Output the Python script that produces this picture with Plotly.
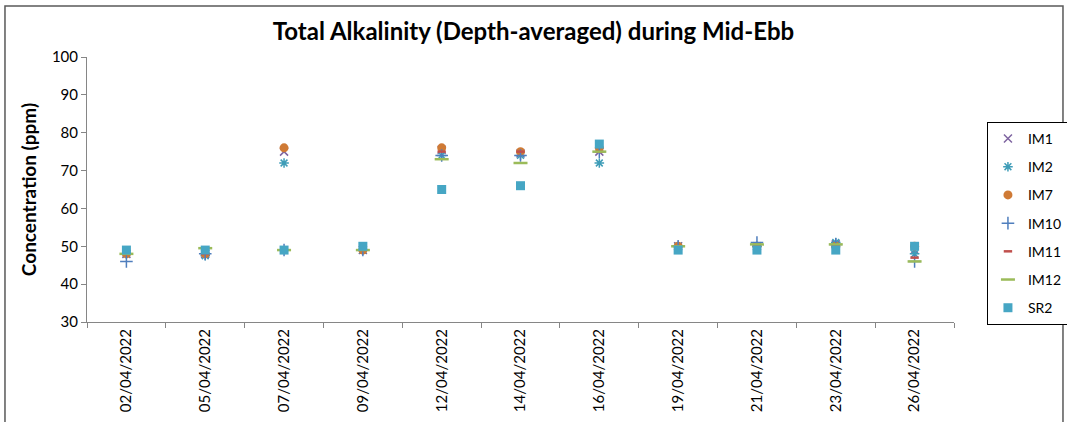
import plotly.graph_objects as go

dates = ["02/04/2022", "05/04/2022", "07/04/2022", "09/04/2022", "12/04/2022",
         "14/04/2022", "16/04/2022", "19/04/2022", "21/04/2022", "23/04/2022", "26/04/2022"]

im1 = [48, 48, 75, 49, 75.5, 74.5, 75, 50, 50, 50.5, 49]
im2 = [48, 47.5, 72, 49, 74, 74, 72, 50, 50, 51, 48]
im7 = [48, 48, 76, 49, 76, 75, 76, 50, 50, 50, 50]
im10 = [46, 48, 49, 49, 74, 74, 75, 50, 51, 50.5, 46]
im11 = [48, 48, 49, 49, 75, 75, 75, 50, 50, 50, 47]
im12 = [48, 49.5, 49, 49, 73, 72, 75, 50, 50.5, 50.5, 46]
sr2 = [49, 49, 49, 50, 65, 66, 77, 49, 49, 49, 50]

series = [
    ("IM1", im1, "x-thin", "#7E64A0", 8, 1.5),
    ("IM2", im2, "asterisk", "#3F9DB8", 8, 1.5),
    ("IM7", im7, "circle", "#CF7A35", 9, 0),
    ("IM10", im10, "cross-thin", "#4F7EBD", 9, 1.5),
    ("IM11", im11, "line-ew", "#C0504D", 6, 2.5),
    ("IM12", im12, "line-ew", "#9BBB59", 10, 2.5),
    ("SR2", sr2, "square", "#46A6C4", 9, 0),
]

FONT = "Lato"
fig = go.Figure()
for name, vals, sym, col, size, lw in series:
    if sym in ("circle", "square"):
        marker = dict(symbol=sym, color=col, size=size, line=dict(width=0))
    else:
        marker = dict(symbol=sym, color=col, size=size, line=dict(width=lw, color=col))
    fig.add_trace(go.Scatter(x=dates, y=vals, mode="markers", name=name, legendgroup=name,
                             marker=marker))

fig.update_layout(
    width=1067, height=422,
    margin=dict(l=87, r=113, t=57, b=100, autoexpand=False),
    paper_bgcolor="white", plot_bgcolor="white",
    font=dict(family=FONT, size=14, color="#000000"),
    title=dict(text="<b>Total Alkalinity (Depth-averaged) during Mid-Ebb</b>",
               x=0.5, xanchor="center", y=0.924, yanchor="middle",
               font=dict(family=FONT, size=24, color="#000000")),
    showlegend=True,
    legend=dict(x=1.038, y=0.755, xanchor="left", yanchor="top",
                bordercolor="#000000", borderwidth=1, bgcolor="white",
                font=dict(family=FONT, size=14), itemwidth=30, tracegroupgap=7),
    xaxis=dict(type="category", categoryorder="array", categoryarray=dates,
               showline=True, linecolor="#868686", linewidth=1, automargin=False,
               ticks="outside", tickson="boundaries", ticklen=5, tickcolor="#868686",
               tickangle=-90, showgrid=False, zeroline=False,
               tickfont=dict(family=FONT, size=15), range=[-0.5, 10.5]),
    yaxis=dict(range=[30, 100], dtick=10, showline=True, linecolor="#868686", linewidth=1,
               ticks="outside", ticklen=5, tickcolor="#868686", showgrid=False, zeroline=False,
               automargin=False, tickfont=dict(family=FONT, size=15),
               title=dict(text="<b>Concentration (ppm)</b>", font=dict(family=FONT, size=19), standoff=10)),
    shapes=[dict(type="rect", xref="paper", yref="paper", x0=-0.0946, x1=1.1257,
                 y0=-0.5, y1=1.1925, line=dict(color="#595959", width=1.5), fillcolor="rgba(0,0,0,0)",
                 layer="below")],
)

fig.write_html("out.html", config={"displayModeBar": False},
               post_script="document.body.style.margin='0';")
